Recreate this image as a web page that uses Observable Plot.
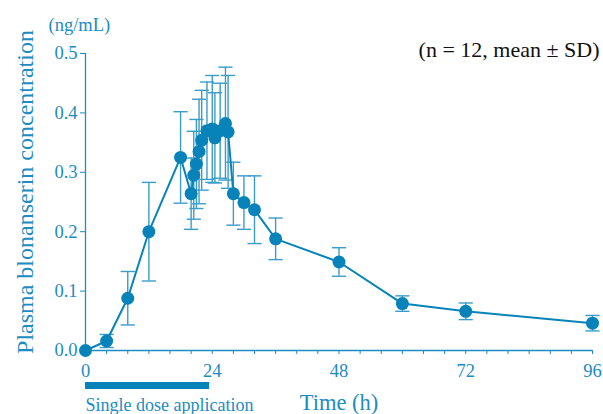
<!DOCTYPE html>
<html>
<head>
<meta charset="utf-8">
<script src="https://cdn.jsdelivr.net/npm/d3@7"></script>
<script src="https://cdn.jsdelivr.net/npm/@observablehq/plot@0.6"></script>
<style>
  html, body { margin: 0; padding: 0; background: #fff; }
  #chart { width: 603px; height: 414px; }
</style>
</head>
<body>
<div id="chart"></div>
<script>
// Data
const times = [0, 4, 8, 12, 18, 20, 20.5, 21, 21.5, 22, 23, 24, 24.5, 25.5, 26.5, 27, 28, 30, 32, 36, 48, 60, 72, 96];
const means = [0, 0.016, 0.088, 0.200, 0.325, 0.264, 0.295, 0.314, 0.335, 0.354, 0.370, 0.373, 0.358, 0.370, 0.382, 0.368, 0.264, 0.249, 0.237, 0.188, 0.149, 0.079, 0.066, 0.046];
const sds   = [0, 0.011, 0.045, 0.083, 0.077, 0.060, 0.074, 0.075, 0.088, 0.084, 0.082, 0.090, 0.076, 0.080, 0.095, 0.095, 0.053, 0.045, 0.057, 0.035, 0.024, 0.013, 0.014, 0.013];
const xTicks = [0, 4, 8, 12, 16, 20, 24, 28, 32, 36, 40, 44, 48, 52, 56, 60, 64, 68, 72, 76, 80, 84, 88, 92, 96];
const xLabels = [0, 24, 48, 72, 96];
const yTicks = [0, 0.1, 0.2, 0.3, 0.4, 0.5];
const dose = [{start: 0, end: 23.5, label: "Single dose application"}];

const data = times.map((t, i) => ({t, m: means[i], lo: means[i] - sds[i], hi: means[i] + sds[i], sd: sds[i]}));
const bars = data.filter(d => d.sd > 0);

const blue = "#0783b9";
const textBlue = "#1c8cc2";
const barBlue = "#3a9cc9";
const font = "Liberation Serif, Times New Roman, serif";

const capSymbol = {
  draw(ctx, size) {
    const r = Math.sqrt(size);
    ctx.moveTo(-r, 0);
    ctx.lineTo(r, 0);
  }
};

const chart = Plot.plot({
  width: 603,
  height: 414,
  marginLeft: 85,
  marginRight: 11,
  marginTop: 53,
  marginBottom: 64,
  style: {fontFamily: font, color: textBlue, background: "#fff"},
  x: {domain: [0, 96]},
  y: {domain: [0, 0.5]},
  marks: [
    Plot.axisY({
      ticks: yTicks,
      tickFormat: d3.format(".1f"),
      tickSize: 5,
      tickPadding: 3,
      fontSize: 18.5,
      stroke: textBlue,
      fill: textBlue,
      label: null
    }),
    Plot.axisX({
      ticks: xTicks,
      tickFormat: d => xLabels.includes(d) ? String(d) : "",
      tickSize: 4,
      tickPadding: 9,
      fontSize: 18.5,
      stroke: textBlue,
      fill: textBlue,
      label: null
    }),
    Plot.ruleY([0], {stroke: textBlue, strokeWidth: 1.3}),
    Plot.ruleX([0], {stroke: textBlue, strokeWidth: 1.3}),
    // error bars
    Plot.ruleX(bars, {x: "t", y1: "lo", y2: "hi", stroke: barBlue, strokeWidth: 1.4}),
    Plot.dot(bars, {x: "t", y: "hi", symbol: capSymbol, r: 4, stroke: barBlue, strokeWidth: 1.4, fill: "none"}),
    Plot.dot(bars, {x: "t", y: "lo", symbol: capSymbol, r: 4, stroke: barBlue, strokeWidth: 1.4, fill: "none"}),
    Plot.line(data, {x: "t", y: "m", stroke: blue, strokeWidth: 2}),
    Plot.dot(data, {x: "t", y: "m", r: 6.5, fill: blue, stroke: "none"}),
    // dose bar & label
    Plot.ruleY(dose, {y: () => 0, x1: "start", x2: "end", stroke: blue, strokeWidth: 7, dy: 35}),
    Plot.text(dose, {x: "start", y: () => 0, text: "label", textAnchor: "start", dy: 55, fontSize: 18, fill: textBlue}),
    // x label
    Plot.text(["Time (h)"], {x: () => 48, y: () => 0, dy: 52, fontSize: 22.5, fill: textBlue}),
    // y label
    Plot.text(["Plasma blonanserin concentration"], {frameAnchor: "left", textAnchor: "middle", dx: -60, dy: -10, rotate: -90, fontSize: 24, fill: textBlue}),
    // unit & annotation
    Plot.text(["(ng/mL)"], {frameAnchor: "top-left", dx: -37, dy: -36, textAnchor: "start", fontSize: 18.5, fill: textBlue}),
    Plot.text(["(n = 12, mean ± SD)"], {frameAnchor: "top-right", dx: 7, dy: -12, textAnchor: "end", fontSize: 22, fill: "#111"})
  ]
});

document.getElementById("chart").appendChild(chart);
</script>
</body>
</html>
